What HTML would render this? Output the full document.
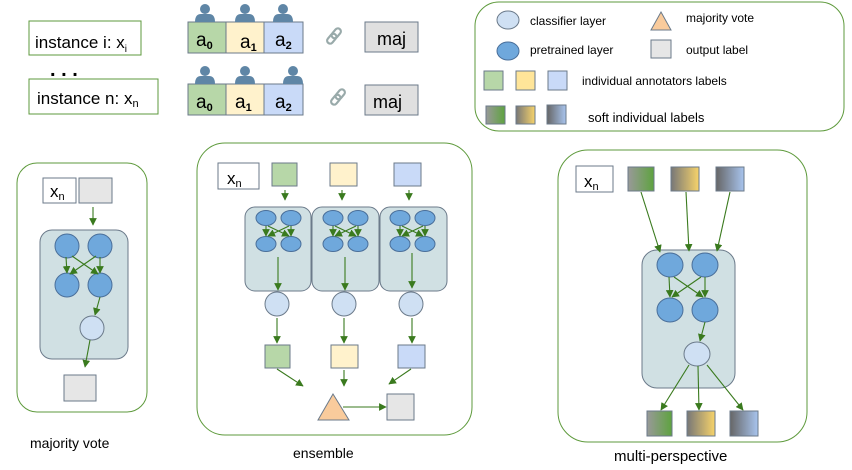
<!DOCTYPE html>
<html><head><meta charset="utf-8"><style>
html,body{margin:0;padding:0;background:#fff;}
svg{display:block;font-family:"Liberation Sans",sans-serif;}
</style></head><body>
<svg width="852" height="470" viewBox="0 0 852 470" xmlns="http://www.w3.org/2000/svg">
<defs>
<marker id="ar" viewBox="0 0 10 10" refX="9" refY="5" markerWidth="7" markerHeight="7" orient="auto"><path d="M0,0 L10,5 L0,10 z" fill="#3a7a1e"/></marker>
<linearGradient id="gG" x1="0" x2="1"><stop offset="0" stop-color="#999"/><stop offset="1" stop-color="#5ea33f"/></linearGradient>
<linearGradient id="gY" x1="0" x2="1"><stop offset="0" stop-color="#777"/><stop offset="1" stop-color="#f7d36a"/></linearGradient>
<linearGradient id="gB" x1="0" x2="1"><stop offset="0" stop-color="#666"/><stop offset="1" stop-color="#a8c4ee"/></linearGradient>
<g id="person" fill="#5f86a6"><circle cx="0" cy="-13" r="5"/><path d="M-10,0 Q-10,-8 -4,-8 L4,-8 Q10,-8 10,0 z"/></g>
<g id="link" fill="none" stroke="#9aa" stroke-width="2.2"><rect x="-3" y="-9" width="6" height="11" rx="3" transform="rotate(40)"/><rect x="-3" y="-2" width="6" height="11" rx="3" transform="rotate(40)"/></g>
</defs>

<!-- top left -->
<rect x="29" y="21" width="112" height="34" fill="#fff" stroke="#5e9a3c"/>
<text x="35" y="48" font-size="17">instance i: x<tspan font-size="10" dy="4">i</tspan></text>
<text x="50" y="76" font-size="20" font-weight="bold">. . .</text>
<rect x="29" y="79" width="129" height="35" fill="#fff" stroke="#5e9a3c"/>
<text x="37" y="104" font-size="17">instance n: x<tspan font-size="11" dy="3">n</tspan></text>

<g stroke="#6b7a8a">
<rect x="188" y="22" width="38" height="31" fill="#b7d7a8"/>
<rect x="226" y="22" width="38" height="31" fill="#fff2cc"/>
<rect x="264" y="22" width="39" height="31" fill="#c9daf8"/>
<rect x="188" y="84" width="38" height="31" fill="#b7d7a8"/>
<rect x="226" y="84" width="38" height="31" fill="#fff2cc"/>
<rect x="264" y="84" width="39" height="31" fill="#c9daf8"/>
</g>
<g font-size="19">
<text x="196" y="46">a<tspan font-size="11" font-weight="bold" dy="3">0</tspan></text>
<text x="240" y="48">a<tspan font-size="11" font-weight="bold" dy="3">1</tspan></text>
<text x="275" y="46">a<tspan font-size="11" font-weight="bold" dy="3">2</tspan></text>
<text x="196" y="108">a<tspan font-size="11" font-weight="bold" dy="3">0</tspan></text>
<text x="235" y="108">a<tspan font-size="11" font-weight="bold" dy="3">1</tspan></text>
<text x="275" y="108">a<tspan font-size="11" font-weight="bold" dy="3">2</tspan></text>
</g>
<use href="#person" x="205" y="22"/><use href="#person" x="245" y="22"/><use href="#person" x="283" y="22"/>
<use href="#person" x="205" y="84"/><use href="#person" x="245" y="84"/><use href="#person" x="293" y="84"/>
<use href="#link" x="334" y="36"/><use href="#link" x="338" y="97"/>
<rect x="365" y="22" width="53" height="30" fill="#e0e0e0" stroke="#6b7a8a"/>
<text x="377" y="45" font-size="18">maj</text>
<rect x="365" y="85" width="53" height="30" fill="#e0e0e0" stroke="#6b7a8a"/>
<text x="373" y="108" font-size="18">maj</text>

<!-- legend -->
<rect x="475" y="2" width="369" height="129" rx="24" fill="#fff" stroke="#5e9a3c"/>
<ellipse cx="508" cy="20" rx="11" ry="9" fill="#cfe0f3" stroke="#6b7a8a"/>
<text x="530" y="25" font-size="12">classifier layer</text>
<ellipse cx="508" cy="51" rx="11" ry="9" fill="#6fa8dc" stroke="#4a6f9a"/>
<text x="530" y="54" font-size="12">pretrained layer</text>
<polygon points="661,12 671,30 651,30" fill="#f9cb9c" stroke="#6b7a8a"/>
<text x="686" y="22" font-size="12">majority vote</text>
<rect x="651" y="40" width="20" height="18" fill="#e6e6e6" stroke="#6b7a8a"/>
<text x="686" y="54" font-size="12">output label</text>
<rect x="484" y="71" width="19" height="19" fill="#b7d7a8" stroke="#6b7a8a"/>
<rect x="516" y="71" width="19" height="19" fill="#ffe599" stroke="#6b7a8a"/>
<rect x="548" y="71" width="19" height="19" fill="#c9daf8" stroke="#6b7a8a"/>
<text x="582" y="85" font-size="12">individual annotators labels</text>
<rect x="486" y="106" width="19" height="18" fill="url(#gG)" stroke="#6b7a8a"/>
<rect x="516" y="106" width="19" height="18" fill="url(#gY)" stroke="#6b7a8a"/>
<rect x="547" y="105" width="19" height="19" fill="url(#gB)" stroke="#6b7a8a"/>
<text x="588" y="122" font-size="13">soft individual labels</text>

<!-- left panel -->
<rect x="17" y="163" width="130" height="249" rx="20" fill="#fff" stroke="#5e9a3c"/>
<rect x="43" y="178" width="33" height="25" fill="#fff" stroke="#6b7a8a"/>
<text x="50" y="197" font-size="17">x<tspan font-size="11" dy="3">n</tspan></text>
<rect x="79" y="178" width="33" height="25" fill="#e6e6e6" stroke="#6b7a8a"/>
<rect x="40" y="230" width="88" height="129" rx="12" fill="#d0e0e3" stroke="#6b7a8a"/>
<g fill="#6fa8dc" stroke="#4a6f9a">
<ellipse cx="67" cy="246" rx="12" ry="12"/><ellipse cx="100" cy="246" rx="12" ry="12"/>
<ellipse cx="67" cy="285" rx="12" ry="12"/><ellipse cx="100" cy="285" rx="12" ry="12"/>
</g>
<ellipse cx="92" cy="328" rx="12" ry="12" fill="#cfe0f3" stroke="#6b7a8a"/>
<rect x="64" y="375" width="32" height="26" fill="#e6e6e6" stroke="#6b7a8a"/>
<g stroke="#3a7a1e" stroke-width="1.1" marker-end="url(#ar)">
<line x1="93" y1="207" x2="93" y2="225"/>
<line x1="66" y1="257" x2="67" y2="273"/><line x1="100" y1="257" x2="100" y2="273"/>
<line x1="72" y1="256" x2="98" y2="274"/><line x1="96" y1="256" x2="70" y2="274"/>
<line x1="100" y1="297" x2="95" y2="315"/>
<line x1="90" y1="340" x2="85" y2="367"/>
</g>
<text x="30" y="448" font-size="14">majority vote</text>

<!-- ensemble -->
<rect x="197" y="143" width="275" height="292" rx="28" fill="#fff" stroke="#5e9a3c"/>
<rect x="218" y="163" width="41" height="26" fill="#fff" stroke="#6b7a8a"/>
<text x="227" y="184" font-size="17">x<tspan font-size="11" dy="3">n</tspan></text>
<rect x="272" y="163" width="25" height="23" fill="#b7d7a8" stroke="#6b7a8a"/>
<rect x="330" y="163" width="27" height="23" fill="#fff2cc" stroke="#6b7a8a"/>
<rect x="394" y="163" width="27" height="23" fill="#c9daf8" stroke="#6b7a8a"/>
<g fill="#d0e0e3" stroke="#6b7a8a">
<rect x="245" y="207" width="66" height="84" rx="10"/>
<rect x="312" y="207" width="67" height="84" rx="10"/>
<rect x="380" y="207" width="67" height="84" rx="10"/>
</g>
<g fill="#6fa8dc" stroke="#4a6f9a">
<ellipse cx="266" cy="218" rx="10" ry="7.5"/><ellipse cx="291" cy="218" rx="10" ry="7.5"/>
<ellipse cx="266" cy="244" rx="10" ry="7.5"/><ellipse cx="291" cy="244" rx="10" ry="7.5"/>
<ellipse cx="333" cy="218" rx="10" ry="7.5"/><ellipse cx="358" cy="218" rx="10" ry="7.5"/>
<ellipse cx="333" cy="244" rx="10" ry="7.5"/><ellipse cx="358" cy="244" rx="10" ry="7.5"/>
<ellipse cx="400" cy="218" rx="10" ry="7.5"/><ellipse cx="425" cy="218" rx="10" ry="7.5"/>
<ellipse cx="400" cy="244" rx="10" ry="7.5"/><ellipse cx="425" cy="244" rx="10" ry="7.5"/>
</g>
<g fill="#cfe0f3" stroke="#6b7a8a">
<ellipse cx="277" cy="304" rx="12" ry="12"/><ellipse cx="344" cy="304" rx="12" ry="12"/><ellipse cx="411" cy="304" rx="12" ry="12"/>
</g>
<rect x="265" y="345" width="25" height="23" fill="#b7d7a8" stroke="#6b7a8a"/>
<rect x="331" y="345" width="27" height="23" fill="#fff2cc" stroke="#6b7a8a"/>
<rect x="398" y="345" width="27" height="23" fill="#c9daf8" stroke="#6b7a8a"/>
<polygon points="333,394 349,420 318,420" fill="#f9cb9c" stroke="#6b7a8a"/>
<rect x="387" y="394" width="27" height="26" fill="#e6e6e6" stroke="#6b7a8a"/>
<g stroke="#3a7a1e" stroke-width="1.1" marker-end="url(#ar)">
<line x1="285" y1="190" x2="285" y2="200"/><line x1="342" y1="190" x2="342" y2="200"/><line x1="409" y1="190" x2="409" y2="200"/>
<line x1="266" y1="226" x2="266" y2="236"/><line x1="291" y1="226" x2="291" y2="236"/><line x1="268" y1="226" x2="289" y2="236"/><line x1="289" y1="226" x2="268" y2="236"/>
<line x1="333" y1="226" x2="333" y2="236"/><line x1="358" y1="226" x2="358" y2="236"/><line x1="335" y1="226" x2="356" y2="236"/><line x1="356" y1="226" x2="335" y2="236"/>
<line x1="400" y1="226" x2="400" y2="236"/><line x1="425" y1="226" x2="425" y2="236"/><line x1="402" y1="226" x2="423" y2="236"/><line x1="423" y1="226" x2="402" y2="236"/>
<line x1="278" y1="257" x2="278" y2="290"/><line x1="345" y1="257" x2="345" y2="290"/><line x1="412" y1="253" x2="412" y2="288"/>
<line x1="277" y1="318" x2="277" y2="343"/><line x1="344" y1="318" x2="344" y2="343"/><line x1="412" y1="318" x2="412" y2="343"/>
<line x1="277" y1="369" x2="303" y2="386"/><line x1="344" y1="370" x2="344" y2="386"/><line x1="411" y1="369" x2="389" y2="384"/>
<line x1="343" y1="407" x2="386" y2="407"/>
</g>
<text x="293" y="458" font-size="14">ensemble</text>

<!-- multi-perspective -->
<rect x="558" y="150" width="249" height="292" rx="30" fill="#fff" stroke="#5e9a3c"/>
<rect x="576" y="166" width="37" height="26" fill="#fff" stroke="#6b7a8a"/>
<text x="584" y="187" font-size="17">x<tspan font-size="11" dy="3">n</tspan></text>
<rect x="628" y="167" width="26" height="24" fill="url(#gG)" stroke="#6b7a8a"/>
<rect x="671" y="167" width="28" height="24" fill="url(#gY)" stroke="#6b7a8a"/>
<rect x="716" y="167" width="28" height="24" fill="url(#gB)" stroke="#6b7a8a"/>
<rect x="642" y="250" width="93" height="138" rx="15" fill="#d0e0e3" stroke="#6b7a8a"/>
<g fill="#6fa8dc" stroke="#4a6f9a">
<ellipse cx="670" cy="265" rx="13" ry="12"/><ellipse cx="705" cy="265" rx="13" ry="12"/>
<ellipse cx="670" cy="310" rx="13" ry="12"/><ellipse cx="705" cy="310" rx="13" ry="12"/>
</g>
<ellipse cx="697" cy="354" rx="13" ry="12" fill="#cfe0f3" stroke="#6b7a8a"/>
<rect x="647" y="411" width="25" height="25" fill="url(#gG)" stroke="#6b7a8a"/>
<rect x="687" y="411" width="28" height="25" fill="url(#gY)" stroke="#6b7a8a"/>
<rect x="730" y="411" width="28" height="25" fill="url(#gB)" stroke="#6b7a8a"/>
<g stroke="#3a7a1e" stroke-width="1.1" marker-end="url(#ar)">
<line x1="641" y1="192" x2="660" y2="252"/><line x1="686" y1="192" x2="689" y2="251"/><line x1="730" y1="192" x2="717" y2="251"/>
<line x1="669" y1="277" x2="670" y2="297"/><line x1="705" y1="277" x2="705" y2="297"/>
<line x1="674" y1="277" x2="703" y2="297"/><line x1="701" y1="277" x2="672" y2="297"/>
<line x1="705" y1="322" x2="700" y2="341"/>
<line x1="689" y1="365" x2="661" y2="410"/><line x1="698" y1="366" x2="699" y2="410"/><line x1="707" y1="365" x2="743" y2="410"/>
</g>
<text x="614" y="461" font-size="15">multi-perspective</text>
</svg>
</body></html>
